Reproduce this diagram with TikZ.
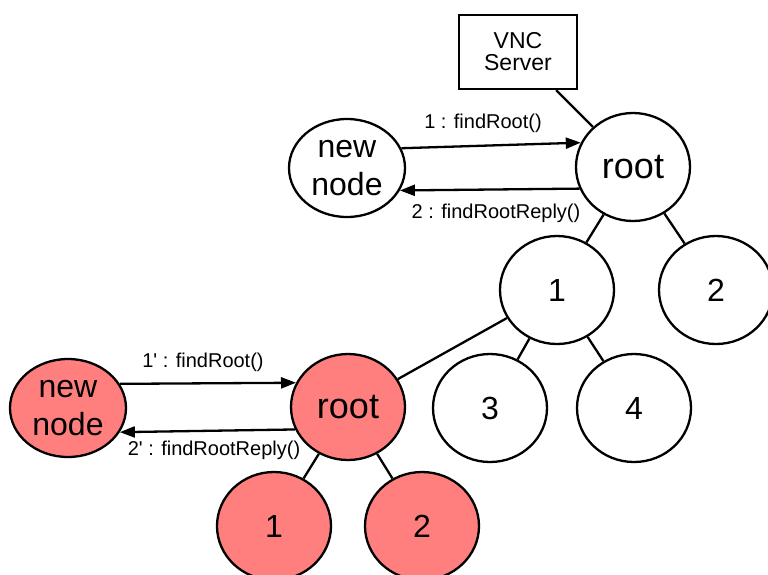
\documentclass[tikz,border=0pt]{standalone}
\usepackage{fontspec}
\setmainfont{Liberation Sans}
\usetikzlibrary{shapes.geometric,arrows.meta}
\definecolor{nodered}{RGB}{255,127,127}
\begin{document}
\begin{tikzpicture}[x=1pt,y=-1pt,
  tnode/.style={ellipse,draw,line width=2.3pt,minimum width=114pt,minimum height=108pt,inner sep=0pt,font=\fontsize{32}{38}\selectfont,align=center},
  rootnode/.style={tnode,font=\fontsize{36}{40}\selectfont},
  newnode/.style={tnode,minimum width=116pt,minimum height=98pt},
  red/.style={fill=nodered},
  edge/.style={line width=2.3pt},
  msg/.style={line width=2.3pt,-{Triangle[length=15pt,width=11pt]}},
  lbl/.style={font=\fontsize{20}{22}\selectfont,inner sep=0pt}]
\useasboundingbox (0,0) rectangle (768,574);
% top tree
\node[draw,line width=2.3pt,minimum width=118pt,minimum height=74pt,inner sep=0pt,align=center,font=\fontsize{23}{22}\selectfont] (vnc) at (518,52) {VNC\\Server};
\node[newnode] (nn) at (347,168) {new\\node};
\node[rootnode] (root) at (633,167) {root};
\node[tnode] (n1) at (557,290) {1};
\node[tnode] (n2) at (716,290) {2};
\node[tnode] (n3) at (490,408) {3};
\node[tnode] (n4) at (634,408) {4};
% red tree
\node[newnode,red] (rnn) at (68,408) {new\\node};
\node[rootnode,red,minimum height=106pt] (rroot) at (348,407) {root};
\node[tnode,red] (r1) at (274,526) {1};
\node[tnode,red] (r2) at (422,526) {2};
% tree edges
\draw[edge] (vnc) -- (root);
\draw[edge] (root) -- (n1);
\draw[edge] (root) -- (n2);
\draw[edge] (n1) -- (n3);
\draw[edge] (n1) -- (n4);
\draw[edge] (n1) -- (rroot);
\draw[edge] (rroot) -- (r1);
\draw[edge] (rroot) -- (r2);
% messages
\draw[msg] (nn.20) -- (root.155);
\draw[msg] (root.202) -- (nn.337);
\draw[msg] (rnn.25) -- (rroot.155);
\draw[msg] (rroot.203) -- (rnn.335);
\node[lbl] (l1) at (483,123) {1 : findRoot()};
\node[lbl] (l2) at (496,213) {2 : findRootReply()};
\node[lbl] (l3) at (203,362) {1\textquotesingle{} : findRoot()};
\node[lbl] (l4) at (214,450) {2\textquotesingle{} : findRootReply()};
\end{tikzpicture}
\end{document}
